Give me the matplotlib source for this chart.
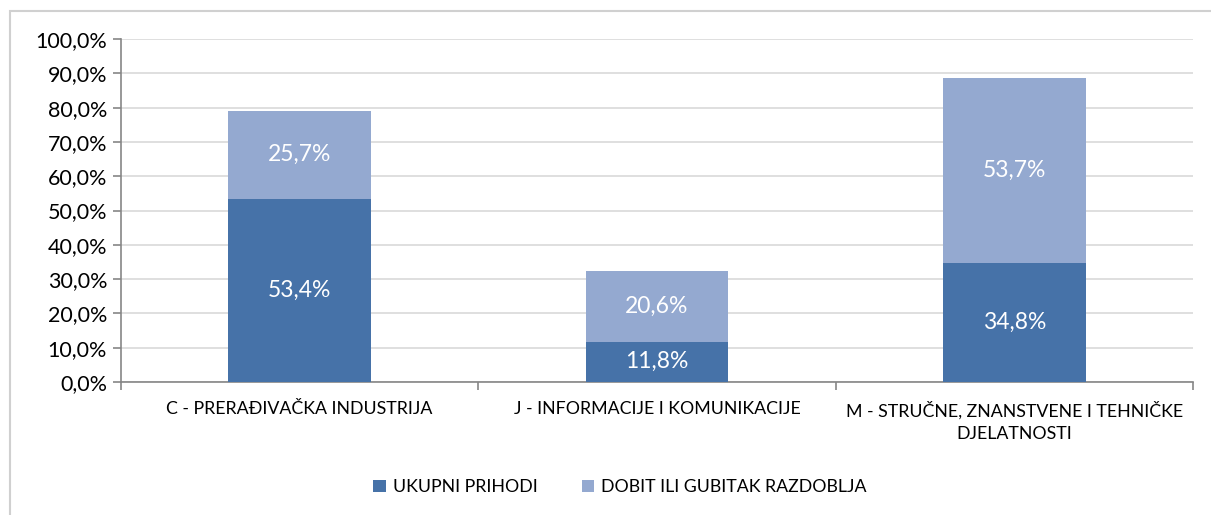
import numpy as np
import matplotlib.pyplot as plt
import matplotlib.patches as patches

# Data
categories = ['C - PRERAĐIVAČKA INDUSTRIJA',
              'J - INFORMACIJE I KOMUNIKACIJE',
              'M - STRUČNE, ZNANSTVENE I TEHNIČKE\nDJELATNOSTI']
ukupni_prihodi = [53.4, 11.8, 34.8]
dobit_gubitak = [25.7, 20.6, 53.7]
series_names = ['UKUPNI PRIHODI', 'DOBIT ILI GUBITAK RAZDOBLJA']
yticks = np.arange(0, 101, 10)

dark = '#4672A8'
light = '#94A9D0'

plt.rcParams['font.family'] = ['Lato', 'DejaVu Sans']

fig = plt.figure(figsize=(12.11, 5.15), dpi=100)
ax = fig.add_axes([121 / 1211, 1 - 382 / 515, (1193 - 121) / 1211, (382 - 39) / 515])

x = np.arange(len(categories))
b1 = ax.bar(x, ukupni_prihodi, width=0.4, color=dark, label=series_names[0], zorder=3)
b2 = ax.bar(x, dobit_gubitak, width=0.4, bottom=ukupni_prihodi, color=light,
            label=series_names[1], zorder=3)

# Value labels inside the segments
for bars in (b1, b2):
    ax.bar_label(bars, labels=[f'{b.get_height():.1f}%'.replace('.', ',') for b in bars],
                 label_type='center', color='white', fontsize=16.5)

# Axes styling
ax.set_xlim(-0.5, len(categories) - 0.5)
ax.set_ylim(0, 100)
ax.set_yticks(yticks)
ax.set_yticklabels([f'{v:.1f}%'.replace('.', ',') for v in yticks], fontsize=15.5)
ax.set_xticks(x)
ax.set_xticklabels(categories, fontsize=12.8, linespacing=1.45)
ax.set_xticks(np.arange(-0.5, len(categories)), minor=True)
ax.tick_params(axis='x', which='major', length=0, pad=14)
ax.tick_params(axis='x', which='minor', length=6, color='#868686', width=1.2)
ax.tick_params(axis='y', length=6, color='#868686', width=1.2, pad=4)
ax.grid(axis='y', color='#D9D9D9', linewidth=1.2, zorder=0)
for side in ('top', 'right'):
    ax.spines[side].set_visible(False)
for side in ('left', 'bottom'):
    ax.spines[side].set_color('#868686')
    ax.spines[side].set_linewidth(1.2)

# Legend
fig.legend(handles=[b1, b2], loc='center', bbox_to_anchor=(620 / 1211, 1 - 487 / 515),
           ncol=2, frameon=False, fontsize=12.8, handlelength=0.7, handleheight=0.7,
           columnspacing=2.5, handletextpad=0.4)

# Outer chart border
border = patches.Rectangle((10 / 1211, -0.1), 1.2, 1 - 11 / 515 + 0.1, fill=False,
                           edgecolor='#D0D0D0', linewidth=1.5, transform=fig.transFigure)
fig.patches.append(border)

fig.savefig('out.png', dpi=100, facecolor='white')
